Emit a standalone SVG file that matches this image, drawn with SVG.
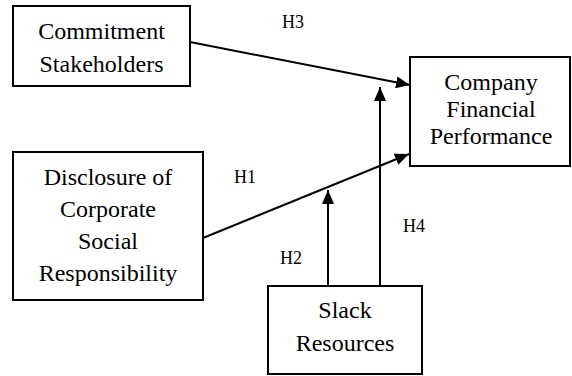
<svg xmlns="http://www.w3.org/2000/svg" width="572" height="376" viewBox="0 0 572 376" font-family="Liberation Serif, Times New Roman, serif">
<style>
.box{fill:#fff;stroke:#000;stroke-width:2}
.t{font-size:24px;fill:#000;text-anchor:middle}
.h{font-size:18px;fill:#000}
.c{stroke:#000;stroke-width:2;fill:none;marker-end:url(#ah)}
</style>
<defs>
<marker id="ah" viewBox="0 0 14 12" refX="14" refY="6" markerWidth="14" markerHeight="12" markerUnits="userSpaceOnUse" orient="auto">
<path d="M0,0 L14,6 L0,12 Z" fill="#000"/>
</marker>
</defs>
<rect width="572" height="376" fill="#fff"/>
<g id="connectors">
<line class="c" x1="190" y1="42" x2="410" y2="85"/>
<line class="c" x1="203" y1="238" x2="409" y2="154"/>
<line class="c" x1="328" y1="286" x2="328" y2="190"/>
<line class="c" x1="380" y1="286" x2="380" y2="87"/>
</g>
<g id="labels">
<text class="h" x="282" y="28">H3</text>
<text class="h" x="234" y="183">H1</text>
<text class="h" x="280" y="264">H2</text>
<text class="h" x="403" y="232">H4</text>
</g>
<g id="commitment">
<rect class="box" x="13" y="6" width="177" height="80"/>
<text class="t" x="101.5" y="39">Commitment</text>
<text class="t" x="101.5" y="72">Stakeholders</text>
</g>
<g id="performance">
<rect class="box" x="410" y="57" width="160" height="109"/>
<text class="t" x="491" y="90">Company</text>
<text class="t" x="491" y="117">Financial</text>
<text class="t" x="491" y="144">Performance</text>
</g>
<g id="disclosure">
<rect class="box" x="13" y="152" width="190" height="148"/>
<text class="t" x="108" y="185">Disclosure of</text>
<text class="t" x="108" y="217">Corporate</text>
<text class="t" x="108" y="249">Social</text>
<text class="t" x="108" y="281">Responsibility</text>
</g>
<g id="slack">
<rect class="box" x="268" y="286" width="154" height="88"/>
<text class="t" x="345" y="318">Slack</text>
<text class="t" x="345" y="351">Resources</text>
</g>
</svg>
